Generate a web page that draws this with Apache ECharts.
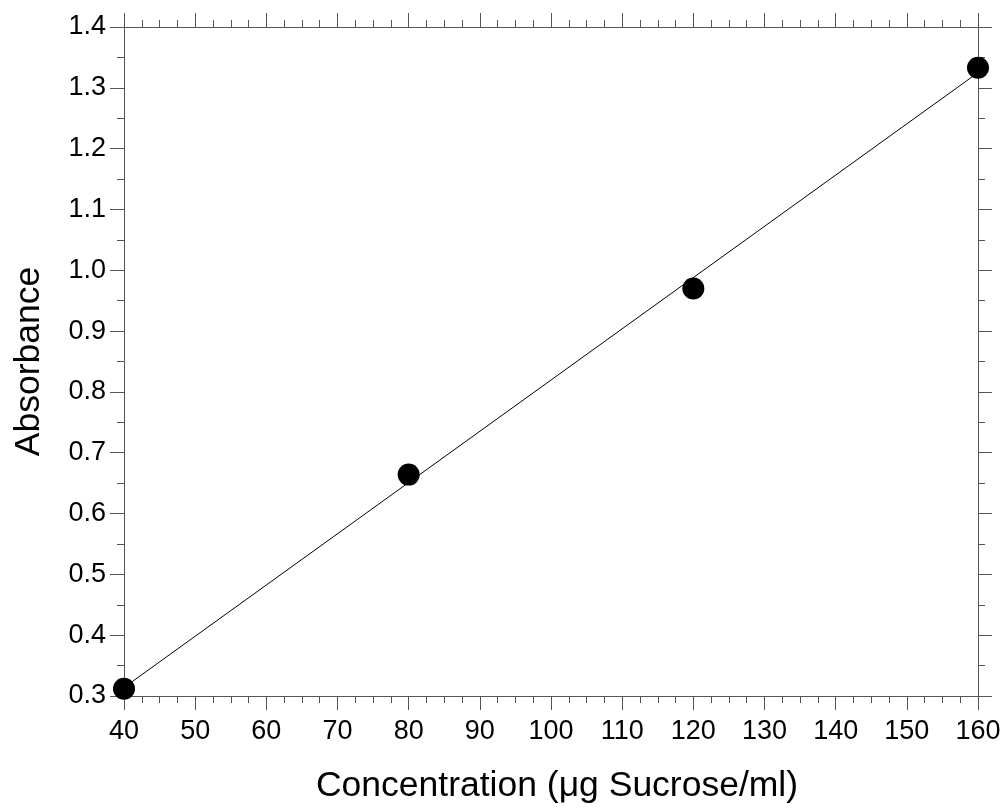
<!DOCTYPE html>
<html>
<head>
<meta charset="utf-8">
<script src="https://cdn.jsdelivr.net/npm/echarts@6/dist/echarts.min.js"></script>
<style>
html,body{margin:0;padding:0;background:#fff;}
#chart{width:1006px;height:809px;}
</style>
</head>
<body>
<div id="chart"></div>
<script>
// Data
const concentration = [40, 80, 120, 160];
const absorbance = [0.312, 0.664, 0.970, 1.333];
const fitX = [40, 160];
const fitY = [0.314, 1.325];
const xTitle = 'Concentration (\u03bcg Sucrose/ml)';
const yTitle = 'Absorbance';

const axisColor = '#555';
const font = 'Liberation Sans, Arial, sans-serif';

function baseX(pos, showLabel) {
  return {
    type: 'value', position: pos, min: 40, max: 160, interval: 10,
    axisLine: {show: true, onZero: false, lineStyle: {color: axisColor, width: 1}},
    axisTick: {show: true, inside: false, length: 14, lineStyle: {color: axisColor}},
    minorTick: {show: true, splitNumber: 4, length: 7, lineStyle: {color: axisColor}},
    splitLine: {show: false},
    axisLabel: {show: showLabel, color: '#000', fontSize: 27, fontFamily: font, margin: 22}
  };
}
function baseY(pos, showLabel) {
  return {
    type: 'value', position: pos, min: 0.3, max: 1.4, interval: 0.1,
    axisLine: {show: true, onZero: false, lineStyle: {color: axisColor, width: 1}},
    axisTick: {show: true, inside: false, length: 14, lineStyle: {color: axisColor}},
    minorTick: {show: true, splitNumber: 2, length: 7, lineStyle: {color: axisColor}},
    splitLine: {show: false},
    axisLabel: {show: showLabel, color: '#000', fontSize: 27, fontFamily: font, margin: 18,
      formatter: v => v.toFixed(1)}
  };
}

const xb = baseX('bottom', true);
xb.name = xTitle; xb.nameLocation = 'middle'; xb.nameGap = 72;
xb.nameTextStyle = {color: '#000', fontSize: 35.5, fontFamily: font, padding: [0, 0, 0, 12]};
const xt = baseX('top', false);
const yl = baseY('left', true);
yl.name = yTitle; yl.nameLocation = 'middle'; yl.nameGap = 77;
yl.nameTextStyle = {color: '#000', fontSize: 35.5, fontFamily: font};
const yr = baseY('right', false);

const chart = echarts.init(document.getElementById('chart'), null, {renderer: 'canvas'});
chart.setOption({
  backgroundColor: '#fff',
  animation: false,
  grid: {left: 124, top: 27, width: 854, height: 671, containLabel: false},
  xAxis: [xb, xt],
  yAxis: [yl, yr],
  series: [
    {
      type: 'line', xAxisIndex: 0, yAxisIndex: 0,
      data: fitX.map((x, i) => [x, fitY[i]]),
      showSymbol: false, symbol: 'none',
      lineStyle: {color: '#000', width: 1}, z: 2
    },
    {
      type: 'scatter', xAxisIndex: 0, yAxisIndex: 0,
      data: concentration.map((x, i) => [x, absorbance[i]]),
      symbol: 'circle', symbolSize: 22,
      itemStyle: {color: '#000', opacity: 1}, z: 3
    }
  ]
});
</script>
</body>
</html>
